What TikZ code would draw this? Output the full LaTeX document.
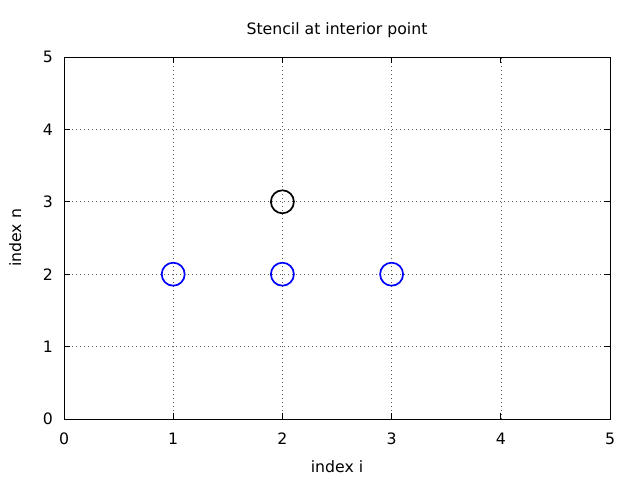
\documentclass[tikz,border=0pt]{standalone}
\usepackage{fontspec}
\setmainfont{DejaVu Sans}
\begin{document}
\begin{tikzpicture}[x=1pt,y=1pt,
  gridline/.style={black!65,line width=0.6pt,dash pattern=on 1pt off 3pt},
  frameline/.style={black,line width=0.8pt},
  tickmark/.style={black,line width=0.8pt},
  ticklabel/.style={font=\fontsize{15.7}{18}\selectfont,inner sep=0pt},
  axlabel/.style={font=\fontsize{15.7}{18}\selectfont,inner sep=0pt},
  stencil/.style={circle,draw=blue,line width=1.7pt,minimum size=23pt,inner sep=0pt},
  target/.style={circle,draw=black,line width=1.7pt,minimum size=23pt,inner sep=0pt}]
\useasboundingbox (0,0) rectangle (640,480);
\fill[white] (0,0) rectangle (640,480);
\begin{scope}[shift={(64,61)},x=109.2pt,y=72.4pt]
  \coordinate (ll) at (0,0);
  \coordinate (ur) at (5,5);
  \foreach \k in {1,2,3,4}{
    \draw[gridline] (\k,0) -- (\k,5);
    \draw[gridline] (0,\k) -- (5,\k);
  }
  \foreach \k in {0,1,2,3,4,5}{
    \draw[tickmark] (\k,0) -- ++(0,6pt);
    \draw[tickmark] (\k,5) -- ++(0,-6pt);
    \draw[tickmark] (0,\k) -- ++(6pt,0);
    \draw[tickmark] (5,\k) -- ++(-6pt,0);
    \node[ticklabel,anchor=base] (xt\k) at ([yshift=-25pt]\k,0) {\k};
    \node[ticklabel,anchor=east] (yt\k) at ([xshift=-11pt]0,\k) {\k};
  }
  \draw[frameline] (ll) rectangle (ur);
  \node[stencil] (p12) at (1,2) {};
  \node[stencil] (p22) at (2,2) {};
  \node[stencil] (p32) at (3,2) {};
  \node[target] (p23) at (2,3) {};
\end{scope}
\node[axlabel,anchor=base] (title) at (337,445) {Stencil at interior point};
\node[axlabel,anchor=base] (xlab) at (337,8) {index i};
\node[axlabel,anchor=base,rotate=90] (ylab) at (21,242) {index n};
\end{tikzpicture}
\end{document}
